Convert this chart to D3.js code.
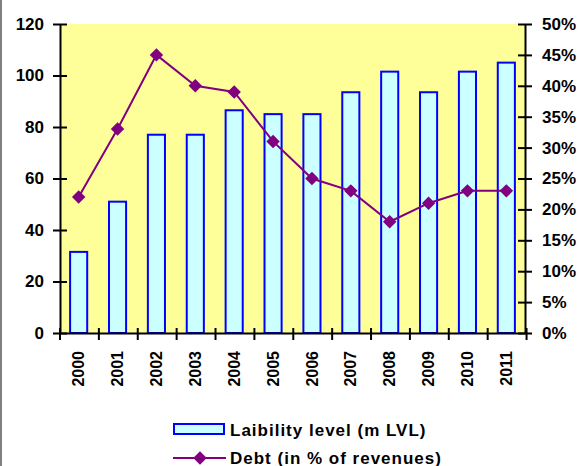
<!DOCTYPE html>
<html>
<head>
<meta charset="utf-8">
<script src="https://cdn.jsdelivr.net/npm/d3@7"></script>
<style>
  body { margin: 0; background: #fff; }
  text { font-family: "Liberation Sans", Arial, sans-serif; font-weight: bold; fill: #000; }
</style>
</head>
<body>
<div id="chart"></div>
<script>
// Data
const years = ['2000', '2001', '2002', '2003', '2004', '2005', '2006', '2007', '2008', '2009', '2010', '2011'];
const liability = [31.5, 51, 77, 77, 86.5, 85, 85, 93.5, 101.5, 93.5, 101.5, 105];
const debtPct = [22, 33, 45, 40, 39, 31, 25, 23, 18, 21, 23, 23];
const leftTicks = [0, 20, 40, 60, 80, 100, 120];
const rightTicks = [0, 5, 10, 15, 20, 25, 30, 35, 40, 45, 50];

const W = 578, H = 466;
const margin = { top: 24, right: 53, bottom: 133, left: 60 };
const width = W - margin.left - margin.right;
const height = H - margin.top - margin.bottom;

const svg = d3.select('#chart').append('svg')
  .attr('width', W)
  .attr('height', H);

// gray frame edge on the left
svg.append('line')
  .attr('x1', 1).attr('x2', 1).attr('y1', 0).attr('y2', H)
  .attr('stroke', '#808080').attr('stroke-width', 2);

const g = svg.append('g')
  .attr('transform', `translate(${margin.left},${margin.top})`);

const x = d3.scaleBand().domain(years).range([0, width])
  .paddingInner(0.56).paddingOuter(0.26);
const yL = d3.scaleLinear().domain([0, 120]).range([height, 0]);
const yR = d3.scaleLinear().domain([0, 50]).range([height, 0]);

// plot background
g.append('rect')
  .attr('width', width).attr('height', height)
  .attr('fill', '#FFFF99');

// bars
g.selectAll('.bar')
  .data(years)
  .enter().append('rect')
  .attr('class', 'bar')
  .attr('x', d => x(d))
  .attr('y', (d, i) => yL(liability[i]))
  .attr('width', x.bandwidth())
  .attr('height', (d, i) => height - yL(liability[i]))
  .attr('fill', '#CCFFFF')
  .attr('stroke', '#0000FF')
  .attr('stroke-width', 2);

// debt line
const cx = d => x(d) + x.bandwidth() / 2;
const line = d3.line()
  .x((d, i) => cx(years[i]))
  .y(d => yR(d));

g.append('path')
  .datum(debtPct)
  .attr('d', line)
  .attr('fill', 'none')
  .attr('stroke', '#800080')
  .attr('stroke-width', 2);

const diamond = d3.symbol().type(d3.symbolDiamond2).size(115);
g.selectAll('.marker')
  .data(debtPct)
  .enter().append('path')
  .attr('class', 'marker')
  .attr('d', diamond)
  .attr('transform', (d, i) => `translate(${cx(years[i])},${yR(d)})`)
  .attr('fill', '#800080');

// axes
const styleAxis = (sel, size) => {
  sel.selectAll('.domain').attr('stroke', '#000').attr('stroke-width', 2);
  sel.selectAll('.tick line').attr('stroke', '#000').attr('stroke-width', 2);
  sel.selectAll('text').attr('font-size', size).style('font-family', '"Liberation Sans", Arial, sans-serif').style('font-weight', 'bold');
};

const yAxisL = d3.axisLeft(yL).tickValues(leftTicks).tickSizeInner(7).tickSizeOuter(0);
const gl = g.append('g').call(yAxisL).call(styleAxis, 17);
gl.selectAll('.tick line').attr('x2', 7).attr('x1', -7);
gl.selectAll('.tick text').attr('x', -16);

const yAxisR = d3.axisRight(yR).tickValues(rightTicks).tickFormat(d => d + '%').tickSizeInner(7).tickSizeOuter(0);
const gr = g.append('g').attr('transform', `translate(${width},0)`).call(yAxisR).call(styleAxis, 17);
gr.selectAll('.tick line').attr('x1', -7).attr('x2', 7);
gr.selectAll('.tick text').attr('x', 17);

// category axis with ticks at band boundaries
const xAxis = d3.axisBottom(x).tickSize(0).tickSizeOuter(0);
const gx = g.append('g').attr('transform', `translate(0,${height})`).call(xAxis).call(styleAxis, 16);
gx.selectAll('.tick text')
  .attr('transform', 'rotate(-90)')
  .attr('text-anchor', 'end')
  .attr('dy', '0.35em')
  .attr('x', -18)
  .attr('y', 0);

const step = x.step();
const x0 = x(years[0]) - x.paddingOuter() * step;
g.append('g').selectAll('line')
  .data(d3.range(years.length + 1))
  .enter().append('line')
  .attr('x1', d => x0 + d * step).attr('x2', d => x0 + d * step)
  .attr('y1', height - 5).attr('y2', height + 7)
  .attr('stroke', '#000').attr('stroke-width', 2);

// legend
const lg = svg.append('g').attr('transform', 'translate(173,0)');
lg.append('rect')
  .attr('x', 1).attr('y', 424).attr('width', 50).attr('height', 10)
  .attr('fill', '#CCFFFF').attr('stroke', '#0000FF').attr('stroke-width', 2);
lg.append('text').attr('x', 57).attr('y', 436).attr('font-size', 17)
  .attr('letter-spacing', 1).text('Laibility level (m LVL)');
lg.append('line')
  .attr('x1', 0).attr('x2', 53).attr('y1', 458).attr('y2', 458)
  .attr('stroke', '#800080').attr('stroke-width', 2);
lg.append('path').attr('d', diamond).attr('transform', 'translate(27,458)').attr('fill', '#800080');
lg.append('text').attr('x', 57).attr('y', 464).attr('font-size', 17)
  .attr('letter-spacing', 1).text('Debt (in % of revenues)');
</script>
</body>
</html>
